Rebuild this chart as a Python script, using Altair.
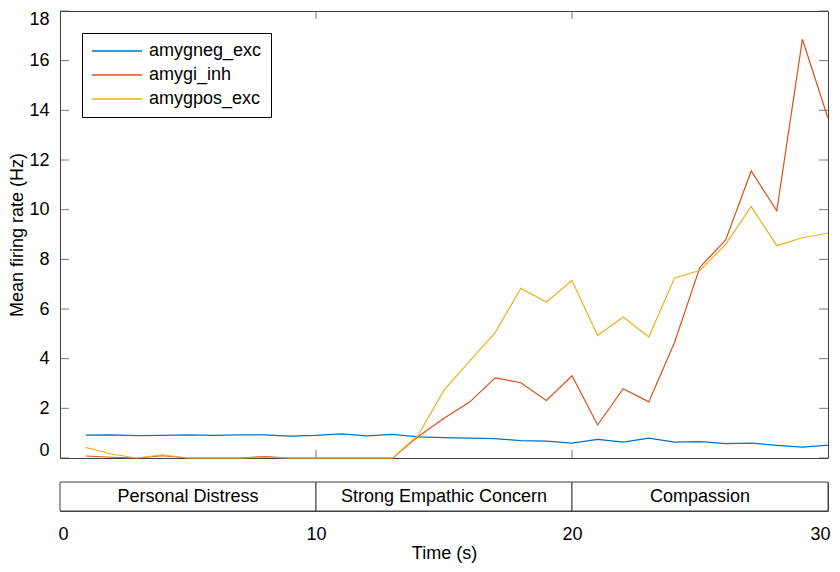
import altair as alt
import pandas as pd

# ---- data ----
time_s = list(range(1, 31))
amygneg_exc = [0.92, 0.93, 0.90, 0.91, 0.93, 0.91, 0.93, 0.93, 0.88, 0.91,
               0.97, 0.89, 0.95, 0.85, 0.82, 0.80, 0.78, 0.70, 0.68, 0.60,
               0.75, 0.64, 0.80, 0.64, 0.66, 0.58, 0.60, 0.51, 0.44, 0.52]
amygi_inh = [0.08, 0.03, 0.0, 0.09, 0.0, 0.0, 0.0, 0.06, 0.0, 0.0,
             0.0, 0.0, 0.0, 0.87, 1.60, 2.25, 3.23, 3.03, 2.32, 3.31,
             1.33, 2.79, 2.26, 4.64, 7.69, 8.77, 11.56, 9.95, 16.86, 13.68]
amygpos_exc = [0.43, 0.16, 0.0, 0.13, 0.0, 0.0, 0.0, 0.03, 0.0, 0.0,
               0.0, 0.0, 0.0, 0.93, 2.73, 3.90, 5.05, 6.83, 6.28, 7.15,
               4.93, 5.68, 4.87, 7.24, 7.56, 8.60, 10.12, 8.55, 8.87, 9.06]
series_names = ["amygneg_exc", "amygi_inh", "amygpos_exc"]
series_colors = ["#0072BD", "#D95319", "#EDB120"]
y_ticks = [0, 2, 4, 6, 8, 10, 12, 14, 16, 18]
x_ticks = [0, 10, 20, 30]
phase_start = [0, 10, 20]
phase_end = [10, 20, 30]
phase_label = ["Personal Distress", "Strong Empathic Concern", "Compassion"]

FONT = "Liberation Sans"
FRAME = "#404040"
W, H = 768, 447

rows = []
for name, vals in zip(series_names, [amygneg_exc, amygi_inh, amygpos_exc]):
    for t, v in zip(time_s, vals):
        rows.append({"time": t, "rate": v, "series": name})
df = pd.DataFrame(rows)

xs = alt.Scale(domain=[0, 30], nice=False, zero=False)
ys = alt.Scale(domain=[0, 18], nice=False)

y_axis = alt.Axis(values=y_ticks, ticks=False, domain=False, grid=False,
                  labelFontSize=18, labelPadding=11, labelColor="black",
                  labelFlush=True, labelFlushOffset=1,
                  title="Mean firing rate (Hz)", titleFontSize=18,
                  titleFontWeight="normal", titleColor="black", titlePadding=2)

x_enc = alt.X("time:Q", scale=xs, axis=None)
y_enc = alt.Y("rate:Q", scale=ys, axis=y_axis)

lines = alt.Chart(df).mark_line(strokeWidth=1.2).encode(
    x=x_enc,
    y=y_enc,
    color=alt.Color(
        "series:N",
        scale=alt.Scale(domain=series_names, range=series_colors),
        legend=alt.Legend(
            title=None, orient="none", legendX=22, legendY=22,
            strokeColor="black", fillColor="white", padding=9,
            symbolType="stroke", symbolSize=2500, symbolStrokeWidth=1.5,
            clipHeight=18, rowPadding=6, labelFontSize=18, labelOffset=6,
            labelColor="black", labelFont=FONT,
        ),
    ),
)

# inward axis ticks, shifted so they sit inside the frame
def tick_layer(times, rates, orient, size, dx=0, dy=0):
    d = pd.DataFrame({"time": times, "rate": rates})
    return alt.Chart(d).mark_tick(
        orient=orient, size=size, thickness=1, color=FRAME,
        xOffset=dx, yOffset=dy
    ).encode(x=x_enc, y=y_enc)

n = len(y_ticks)
inner_x = x_ticks[1:-1]
m = len(inner_x)
left_ticks = tick_layer([0] * n, y_ticks, "horizontal", 9, dx=4.5)
right_ticks = tick_layer([30] * n, y_ticks, "horizontal", 9, dx=-4.5)
bottom_ticks = tick_layer(inner_x, [0] * m, "vertical", 8, dy=-4)
top_ticks = tick_layer(inner_x, [18] * m, "vertical", 8, dy=4)

main = alt.layer(left_ticks, right_ticks, bottom_ticks, top_ticks, lines).properties(
    width=W, height=H)

band_df = pd.DataFrame({"start": phase_start, "end": phase_end, "label": phase_label})
band_df["mid"] = (band_df["start"] + band_df["end"]) / 2

x_axis = alt.Axis(values=x_ticks, ticks=False, domain=False, grid=False,
                  labelFontSize=18, labelPadding=14, labelColor="black",
                  labelFlush=True, labelFlushOffset=2, format="d",
                  title="Time (s)", titleFontSize=18, titleFontWeight="normal",
                  titleColor="black", titlePadding=1)

band_rect = alt.Chart(band_df).mark_rect(
    fill="white", stroke=FRAME, strokeWidth=1
).encode(
    x=alt.X("start:Q", scale=xs, axis=x_axis),
    x2="end:Q",
)
band_text = alt.Chart(band_df).mark_text(
    fontSize=18, font=FONT, color="black", baseline="middle"
).encode(
    x=alt.X("mid:Q", scale=xs, axis=x_axis),
    text="label:N",
)
band = alt.layer(band_rect, band_text).properties(width=W, height=29)

chart = alt.vconcat(main, band, spacing=20).properties(
    padding={"left": 0, "top": 1, "right": 0, "bottom": 0}
).configure(font=FONT).configure_view(stroke=FRAME, strokeWidth=1)

chart.save("out.html", embed_options={"renderer": "svg", "actions": False})
